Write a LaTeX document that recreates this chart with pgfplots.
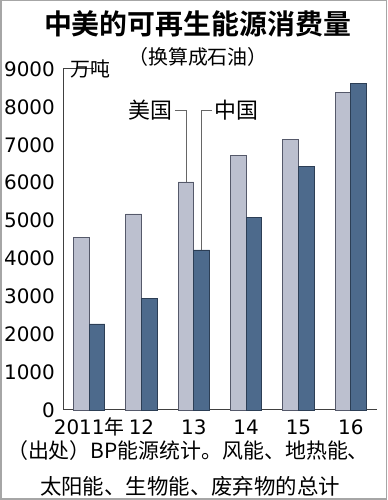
\documentclass[border=0pt]{standalone}
\usepackage{pgfplots}
\pgfplotsset{compat=1.18}
\usepackage{fontspec}
\setmainfont{DejaVu Sans}
\newfontfamily\cjk{Noto Sans CJK SC}
\newfontfamily\cjkb{Noto Sans CJK SC Bold}
\newfontfamily\digits{DejaVu Sans}
\definecolor{usfill}{HTML}{BCC0CF}
\definecolor{cnfill}{HTML}{4D6A8C}
\definecolor{usedge}{HTML}{55596A}
\definecolor{cnedge}{HTML}{2C3E55}
\definecolor{lead}{HTML}{666666}
\begin{document}
\begin{tikzpicture}[x=1bp,y=1bp]
\useasboundingbox (0,0) rectangle (387,500);
\fill[white] (0,0) rectangle (387,500);
\draw[gray!70,line width=1.5bp] (0.75,0.75) rectangle (386.25,499.25);
\node[font=\cjkb\fontsize{28}{30}\selectfont] at (197.5,476) {中美的可再生能源消费量};
\node[font=\cjk\fontsize{20}{22}\selectfont] at (198,443) {（换算成石油）};
\node[font=\cjk\fontsize{21}{23}\selectfont] at (188,49) {（出处）BP能源统计。风能、地热能、};
\node[font=\cjk\fontsize{21.5}{23}\selectfont] at (190,14) {太阳能、生物能、废弃物的总计};
\begin{axis}[
  at={(63bp,90bp)}, anchor=south west,
  scale only axis, width=314bp, height=341bp,
  xmin=-0.5, xmax=5.5, ymin=0, ymax=9000,
  axis lines*=left,
  axis line style={line width=1bp, color=black!75},
  major tick length=0pt,
  xtick={0,1,2,3,4,5},
  xticklabels={{2011{\cjk 年}},12,13,14,15,16},
  ytick={0,1000,2000,3000,4000,5000,6000,7000,8000,9000},
  yticklabels={0,1000,2000,3000,4000,5000,6000,7000,8000,9000},
  yticklabel style={font=\digits\fontsize{20}{22}\selectfont, inner sep=0pt, anchor=east, xshift=-8bp},
  xticklabel style={font=\digits\fontsize{20}{22}\selectfont, inner sep=0pt, anchor=base, yshift=-25bp},
  clip=false,
]
\addplot[ybar, bar width=0.3, fill=usfill, draw=usedge, line width=0.8bp] coordinates {
  (-0.15,4560) (0.85,5175) (1.85,6020) (2.85,6720) (3.85,7150) (4.85,8380)
};
\addplot[ybar, bar width=0.3, fill=cnfill, draw=cnedge, line width=0.8bp] coordinates {
  (0.15,2270) (1.15,2935) (2.15,4225) (3.15,5085) (4.15,6435) (5.15,8615)
};
\draw[lead, line width=0.9bp] (axis cs:1.64,7916) -- (axis cs:1.85,7916) -- (axis cs:1.85,6020);
\draw[lead, line width=0.9bp] (axis cs:2.35,7916) -- (axis cs:2.15,7916) -- (axis cs:2.15,4225);
\node[font=\cjk\fontsize{22}{24}\selectfont, anchor=east, inner sep=0pt] at (axis cs:1.60,7916) {美国};
\node[font=\cjk\fontsize{22}{24}\selectfont, anchor=west, inner sep=0pt] at (axis cs:2.40,7916) {中国};
\draw[black!75, line width=1bp] (axis cs:-0.5,9000) -- ++(5bp,0);
\node[font=\cjk\fontsize{20}{22}\selectfont, anchor=west, inner sep=0pt] at (axis cs:-0.5,9000) [xshift=7bp] {万吨};
\end{axis}
\end{tikzpicture}
\end{document}
